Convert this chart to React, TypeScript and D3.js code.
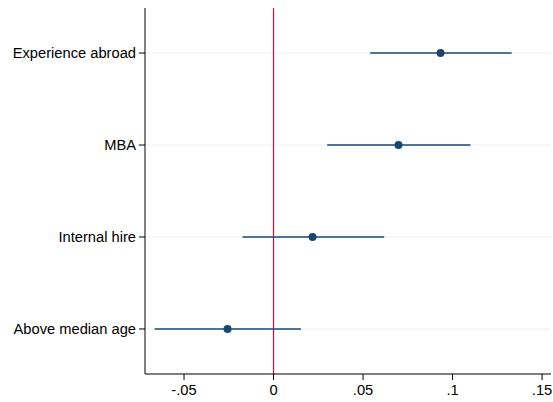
import React from "react";
import * as d3 from "d3";

// Coefficient estimates with 95% confidence intervals
const labels = ["Experience abroad", "MBA", "Internal hire", "Above median age"];
const estimates = [0.0933, 0.0698, 0.0218, -0.0257];
const lower = [0.054, 0.030, -0.0173, -0.0664];
const upper = [0.133, 0.110, 0.0618, 0.0153];
const xTicks = [-0.05, 0, 0.05, 0.1, 0.15];
const xTickLabels = ["-.05", "0", ".05", ".1", ".15"];

const W = 553;
const H = 402;
const left = 145;
const right = 551;
const top = 8;
const bottom = 374;

const navy = "#1a476f";
const font = "'Liberation Sans', Arial, Helvetica, sans-serif";

export default function App() {
  const x = d3.scaleLinear().domain([-0.0718, 0.155]).range([left, right]);
  const y = d3
    .scaleLinear()
    .domain([0.51, labels.length + 0.49])
    .range([top, bottom]);

  return (
    <svg
      width={W}
      height={H}
      style={{ position: "absolute", left: 0, top: 0, background: "#fff" }}
    >
      <rect x={0} y={0} width={W} height={H} fill="#fff" />
      {/* horizontal gridlines */}
      {labels.map((_, i) => (
        <line
          key={"g" + i}
          x1={left}
          x2={right}
          y1={y(i + 1)}
          y2={y(i + 1)}
          stroke="#eaf2f3"
          strokeWidth={1}
        />
      ))}
      {/* reference line at zero */}
      <line
        x1={x(0)}
        x2={x(0)}
        y1={top}
        y2={bottom}
        stroke="#d0103a"
        strokeWidth={1.2}
      />
      {/* confidence intervals and point estimates */}
      {labels.map((_, i) => (
        <g key={"m" + i}>
          <line
            x1={x(lower[i])}
            x2={x(upper[i])}
            y1={y(i + 1)}
            y2={y(i + 1)}
            stroke={navy}
            strokeWidth={1.4}
          />
          <circle cx={x(estimates[i])} cy={y(i + 1)} r={4} fill={navy} />
        </g>
      ))}
      {/* y axis */}
      <line x1={left} x2={left} y1={top} y2={bottom} stroke="#000" strokeWidth={1} />
      {labels.map((l, i) => (
        <g key={"yl" + i}>
          <line
            x1={left - 6}
            x2={left}
            y1={y(i + 1)}
            y2={y(i + 1)}
            stroke="#000"
            strokeWidth={1}
          />
          <text
            x={left - 9}
            y={y(i + 1)}
            dy="0.35em"
            textAnchor="end"
            fontFamily={font}
            fontSize={14.7}
            fill="#000"
          >
            {l}
          </text>
        </g>
      ))}
      {/* x axis */}
      <line x1={left} x2={right} y1={bottom} y2={bottom} stroke="#000" strokeWidth={1} />
      {xTicks.map((t, i) => (
        <g key={"xt" + i}>
          <line
            x1={x(t)}
            x2={x(t)}
            y1={bottom}
            y2={bottom + 6}
            stroke="#000"
            strokeWidth={1}
          />
          <text
            x={x(t)}
            y={bottom + 21}
            textAnchor="middle"
            fontFamily={font}
            fontSize={14.7}
            fill="#000"
          >
            {xTickLabels[i]}
          </text>
        </g>
      ))}
    </svg>
  );
}
